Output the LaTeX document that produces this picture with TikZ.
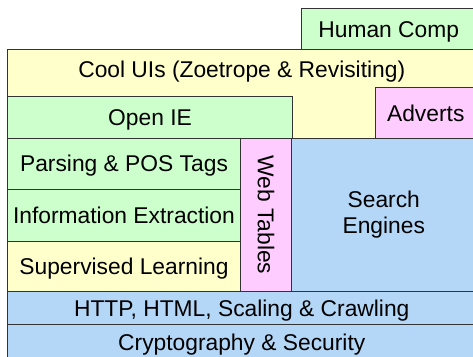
\documentclass[tikz,border=0pt]{standalone}
\usepackage{fontspec}
\setmainfont{Liberation Sans}
\usepackage{xcolor}

\definecolor{lgreen}{HTML}{CCFFCC}
\definecolor{lyellow}{HTML}{FFFFCC}
\definecolor{lpink}{HTML}{FFCCFF}
\definecolor{lblue}{HTML}{B4D7F7}

\begin{document}
\begin{tikzpicture}[x=1pt, y=-1pt,
  every node/.style={draw=black!80, line width=1pt, inner sep=0pt, outer sep=0pt,
    anchor=north west, font=\fontsize{22.8}{26}\selectfont,
    text height=16.3pt, text depth=0pt},
  green/.style={fill=lgreen},
  yellow/.style={fill=lyellow},
  pink/.style={fill=lpink},
  blue/.style={fill=lblue},
  size/.style 2 args={minimum width=#1, minimum height=#2}
]
\path[use as bounding box, clip] (0,0) rectangle (473,356);

% top layers
\node[yellow, size={468.5pt}{89pt}] (ui) at (7.5,49.5) {};
\node[draw=none, anchor=center] (uitext) at ([yshift=-20pt]ui.north) {Cool UIs (Zoetrope \& Revisiting)};
\node[green, size={285pt}{42.5pt}] (openie) at (7.5,96) {Open IE};
\node[pink, size={100.5pt}{51pt}] (adverts) at (375.5,87.5) {Adverts};
\node[green, size={174.5pt}{41pt}] (human) at (301.5,8.5) {Human Comp};

% middle stack
\node[green, size={233pt}{50.5pt}] (parsing) at (7.5,138.5) {Parsing \& POS Tags};
\node[green, size={233pt}{52pt}] (infoext) at (7.5,189) {Information Extraction};
\node[yellow, size={233pt}{50.5pt}] (superv) at (7.5,241) {Supervised Learning};
\node[pink, rotate=-90, anchor=center, size={153pt}{51pt}] (webtab) at (266,215) {Web Tables};
\node[blue, size={184.5pt}{153pt}, align=center, text height={}, text depth={}] (search) at (291.5,138.5) {Search\\Engines};

% bottom layers
\node[blue, size={468.5pt}{33pt}] (http) at (7.5,291.5) {HTTP, HTML, Scaling \& Crawling};
\node[blue, size={468.5pt}{35pt}] (crypto) at (7.5,324.5) {Cryptography \& Security};
\end{tikzpicture}
\end{document}
